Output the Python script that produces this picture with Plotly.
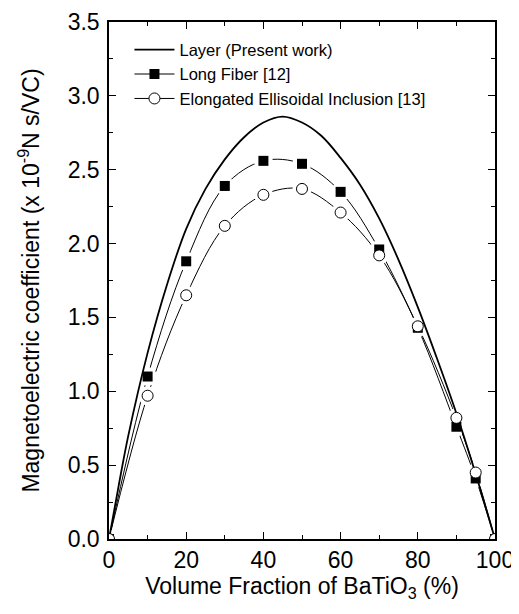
import plotly.graph_objects as go

# Data
layer_x = [0, 2.5, 5, 10, 15, 20, 25, 30, 35, 40, 45, 50, 55, 60, 65, 70, 75, 80, 85, 90, 95, 100]
layer_y = [0, 0.36, 0.70, 1.26, 1.72, 2.10, 2.37, 2.57, 2.72, 2.82, 2.86, 2.82, 2.73, 2.58, 2.40, 2.17, 1.89, 1.57, 1.22, 0.85, 0.44, 0]

vf_x = [0, 10, 20, 30, 40, 50, 60, 70, 80, 90, 95, 100]
fiber_y = [0, 1.10, 1.88, 2.39, 2.56, 2.54, 2.35, 1.96, 1.43, 0.76, 0.41, 0]
ellip_y = [0, 0.97, 1.65, 2.12, 2.33, 2.37, 2.21, 1.92, 1.44, 0.82, 0.45, 0]

names = ["Layer (Present work)", "Long Fiber [12]", "Elongated Ellisoidal Inclusion [13]"]

FONT = "Liberation Sans, Arial, sans-serif"

fig = go.Figure()

# connecting curves
fig.add_trace(go.Scatter(x=vf_x, y=fiber_y, mode="lines", line=dict(color="black", width=1, shape="spline"),
                         showlegend=False, hoverinfo="skip"))
fig.add_trace(go.Scatter(x=vf_x, y=ellip_y, mode="lines", line=dict(color="black", width=1, shape="spline"),
                         showlegend=False, hoverinfo="skip"))
# white halos to create gaps around markers
for ys in (fiber_y, ellip_y):
    fig.add_trace(go.Scatter(x=vf_x, y=ys, mode="markers",
                             marker=dict(symbol="circle", size=19, color="white", line=dict(width=0)),
                             showlegend=False, hoverinfo="skip"))
# layer curve
fig.add_trace(go.Scatter(x=layer_x, y=layer_y, mode="lines", name=names[0],
                         line=dict(color="black", width=1.8, shape="spline", smoothing=1.0)))
# markers
fig.add_trace(go.Scatter(x=vf_x, y=fiber_y, mode="markers", showlegend=False,
                         marker=dict(symbol="square", size=10, color="black")))
fig.add_trace(go.Scatter(x=vf_x, y=ellip_y, mode="markers", showlegend=False,
                         marker=dict(symbol="circle", size=11, color="white", line=dict(color="black", width=1))))
# legend entries
fig.add_trace(go.Scatter(x=[None], y=[None], mode="lines+markers", name=names[1],
                         line=dict(color="black", width=1),
                         marker=dict(symbol="square", size=10, color="black")))
fig.add_trace(go.Scatter(x=[None], y=[None], mode="lines+markers", name=names[2],
                         line=dict(color="black", width=1),
                         marker=dict(symbol="circle", size=11, color="white", line=dict(color="black", width=1))))

axis_common = dict(
    showline=True, linecolor="black", linewidth=1.5, mirror="allticks",
    ticks="inside", ticklen=7, tickwidth=1.2, tickcolor="black",
    showgrid=False, zeroline=False, automargin=False, ticklabeloverflow="allow",
    tickfont=dict(family=FONT, size=23, color="black"),
)

fig.update_xaxes(range=[0, 100], tick0=0, dtick=20,
                 minor=dict(ticks="inside", ticklen=4, tickwidth=1.2, dtick=10, tickcolor="black"),
                 title=dict(text="Volume Fraction of BaTiO<sub>3</sub> (%)",
                            font=dict(family=FONT, size=23, color="black"), standoff=5),
                 **axis_common)
fig.update_yaxes(range=[0, 3.5], tick0=0, dtick=0.5, tickformat=".1f",
                 minor=dict(ticks="inside", ticklen=4, tickwidth=1.2, dtick=0.25, tickcolor="black"),
                 title=dict(text="Magnetoelectric coefficient (x 10<sup>-9</sup>N s/VC)",
                            font=dict(family=FONT, size=23, color="black"), standoff=22),
                 ticklabelstandoff=3,
                 **axis_common)

# page body has an 8px default margin, so the figure is sized/offset to compensate
fig.update_layout(
    width=511, height=606,
    margin=dict(l=101, r=24, t=14, b=75),
    paper_bgcolor="white", plot_bgcolor="white",
    font=dict(family=FONT, size=17, color="black"),
    legend=dict(x=0.053, y=0.98, xanchor="left", yanchor="top",
                bgcolor="rgba(0,0,0,0)", font=dict(family=FONT, size=16.5, color="black"),
                tracegroupgap=0, itemwidth=40),
    showlegend=True,
)

fig.write_html("out.html")
